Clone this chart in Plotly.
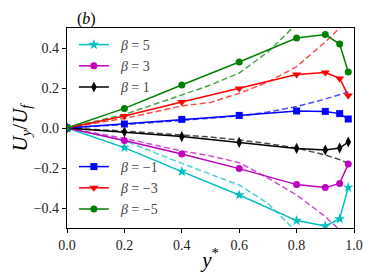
import plotly.graph_objects as go

# sampled positions of the measured points
y_star = [0.0, 0.2, 0.4, 0.6, 0.8, 0.9, 0.95, 0.98]

# measured profiles (solid lines with markers)
u_b5 = [0.0, -0.098, -0.218, -0.335, -0.463, -0.49, -0.455, -0.297]
u_b3 = [0.0, -0.063, -0.13, -0.203, -0.283, -0.298, -0.277, -0.18]
u_b1 = [0.0, -0.02, -0.043, -0.072, -0.102, -0.11, -0.10, -0.07]
u_bm1 = [0.0, 0.02, 0.043, 0.063, 0.085, 0.083, 0.072, 0.045]
u_bm3 = [0.0, 0.06, 0.13, 0.197, 0.267, 0.277, 0.248, 0.162]
u_bm5 = [0.0, 0.098, 0.215, 0.33, 0.45, 0.467, 0.42, 0.28]

# dashed reference curves
yd = [0.0, 0.2, 0.4, 0.5, 0.6, 0.7, 0.8, 0.9, 0.95, 0.98]
d_b5 = [0.0, -0.063, -0.177, -0.23, -0.285, -0.377, -0.52, -0.75, -0.9, -1.0]
d_b3 = [0.0, -0.052, -0.115, -0.14, -0.173, -0.25, -0.335, -0.443, -0.51, -0.56]
d_b1 = [0.0, -0.015, -0.035, -0.045, -0.06, -0.078, -0.10, -0.135, -0.158, -0.177]
d_bm1 = [0.0, 0.017, 0.038, 0.048, 0.06, 0.08, 0.107, 0.145, 0.165, 0.18]
d_bm3 = [0.0, 0.048, 0.11, 0.128, 0.173, 0.23, 0.307, 0.43, 0.5, 0.55]
d_bm5 = [0.0, 0.068, 0.165, 0.215, 0.275, 0.38, 0.52, 0.75, 0.9, 1.0]

labels = ["5", "3", "1", "\u22121", "\u22123", "\u22125"]
colors = ["#00BFBF", "#BF00BF", "#000000", "#0000FF", "#FF0000", "#008000"]
symbols = ["star", "circle", "diamond-tall", "square", "triangle-down", "circle"]
sizes = [8, 7, 8, 7, 8, 7]
solid = [u_b5, u_b3, u_b1, u_bm1, u_bm3, u_bm5]
dashed = [d_b5, d_b3, d_b1, d_bm1, d_bm3, d_bm5]

serif = "Liberation Serif, Times New Roman, serif"

fig = go.Figure()

for i in range(6):
    fig.add_trace(go.Scatter(x=yd, y=dashed[i], mode="lines", showlegend=False,
                             opacity=0.7,
                             line=dict(color=colors[i], width=1.5, dash="6px,3px")))

for i in range(6):
    fig.add_trace(go.Scatter(x=y_star, y=solid[i], mode="lines+markers",
                             name="\u00a0\u00a0<i>β</i> = " + labels[i],
                             legend="legend" if i < 3 else "legend2",
                             line=dict(color=colors[i], width=1.5),
                             marker=dict(symbol=symbols[i], size=sizes[i], color=colors[i])))

axis_common = dict(showline=True, linecolor="black", linewidth=1.2, mirror=True,
                   ticks="outside", ticklen=4, tickcolor="black", showgrid=False,
                   zeroline=False, automargin=False,
                   tickfont=dict(family=serif, size=14, color="#222"))

fig.update_xaxes(range=[0, 1], tickvals=[0, 0.2, 0.4, 0.6, 0.8, 1.0],
                 ticktext=["0.0", "0.2", "0.4", "0.6", "0.8", "1.0"],
                 title=dict(text="<i>y</i><sup>*</sup>", font=dict(family=serif, size=21, color="black"),
                            standoff=0),
                 **axis_common)
fig.update_yaxes(range=[-0.5, 0.5], tickvals=[-0.4, -0.2, 0, 0.2, 0.4],
                 ticktext=["\u22120.4", "\u22120.2", "0.0", "0.2", "0.4"],
                 title=dict(text="<i>U<sub>y</sub></i>/<i>U<sub>f</sub></i>",
                            font=dict(family=serif, size=21, color="black"), standoff=0),
                 **axis_common)

legend_common = dict(bgcolor="rgba(0,0,0,0)", font=dict(family=serif, size=14, color="#444"),
                     xanchor="left", yanchor="top", tracegroupgap=0, itemwidth=30)

# the page body adds an 8px offset, so left/top margins are trimmed by 8
fig.update_layout(
    width=371, height=278,
    margin=dict(l=59, r=25, t=20, b=58, autoexpand=False),
    plot_bgcolor="white", paper_bgcolor="white",
    legend=dict(x=0.024, y=0.995, **legend_common),
    legend2=dict(x=0.024, y=0.385, **legend_common),
    annotations=[dict(text="(<i>b</i>)", x=0.028, y=1.1, xanchor="left", yanchor="top",
                      xref="paper", yref="paper",
                      showarrow=False, font=dict(family=serif, size=16, color="black"))],
)

fig.write_html("out.html")
